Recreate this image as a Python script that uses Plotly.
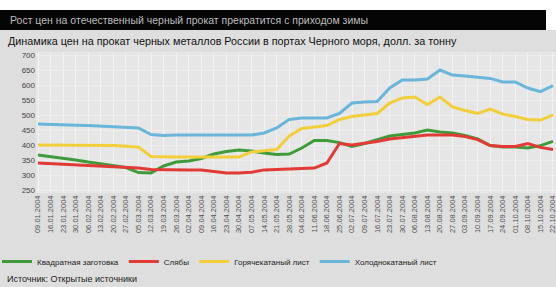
import plotly.graph_objects as go

dates = ["09.01.2004", "16.01.2004", "23.01.2004", "30.01.2004", "06.02.2004", "13.02.2004",
         "20.02.2004", "27.02.2004", "05.03.2004", "12.03.2004", "19.03.2004", "26.03.2004",
         "02.04.2004", "09.04.2004", "16.04.2004", "23.04.2004", "30.04.2004", "07.05.2004",
         "14.05.2004", "21.05.2004", "28.05.2004", "04.06.2004", "11.06.2004", "18.06.2004",
         "25.06.2004", "02.07.2004", "09.07.2004", "16.07.2004", "23.07.2004", "30.07.2004",
         "06.08.2004", "13.08.2004", "20.08.2004", "27.08.2004", "03.09.2004", "10.09.2004",
         "17.09.2004", "24.09.2004", "01.10.2004", "08.10.2004", "15.10.2004", "22.10.2004"]

billets = [367, 362, 357, 350, 343, 337, 330, 325, 308, 307, 330, 343, 347, 355, 370, 378,
           383, 380, 373, 368, 370, 390, 415, 415, 408, 395, 405, 418, 430, 435, 440, 450,
           443, 440, 432, 420, 398, 393, 393, 390, 398, 412]
slabs = [340, 338, 336, 334, 332, 330, 328, 326, 323, 318, 317, 317, 317, 317, 312, 307,
         307, 309, 317, 318, 320, 322, 323, 340, 405, 400, 405, 412, 420, 425, 430, 433,
         433, 433, 428, 418, 398, 395, 395, 405, 392, 385]
hot_rolled = [400, 400, 400, 400, 400, 400, 398, 396, 393, 362, 360, 360, 360, 360, 360, 360,
              360, 377, 380, 385, 430, 455, 460, 465, 485, 495, 500, 505, 540, 557, 560, 535,
              560, 527, 515, 505, 520, 503, 495, 485, 483, 500]
cold_rolled = [470, 468, 467, 466, 465, 463, 462, 460, 457, 435, 432, 433, 433, 433, 433, 433,
               433, 433, 440, 457, 485, 490, 490, 490, 505, 540, 543, 545, 590, 617, 617, 620,
               650, 633, 630, 627, 622, 610, 610, 590, 578, 598]

series = [
    ("Квадратная заготовка", billets, "#3f9b3a"),
    ("Слябы", slabs, "#e23a34"),
    ("Горячекатаный лист", hot_rolled, "#f2cf3a"),
    ("Холоднокатаный лист", cold_rolled, "#6ab6da"),
]

title = "Рост цен на отечественный черный прокат прекратится с приходом зимы"
subtitle = "Динамика цен на прокат черных металлов России в портах Черного моря, долл. за тонну"
source = "Источник: Открытые источники"

fig = go.Figure()
for name, vals, col in series:
    fig.add_trace(go.Scatter(x=dates, y=vals, name=name, mode="lines",
                             line=dict(color=col, width=3)))

W, H = 556, 287
L, R, T, B = 36, 0, 52, 94
pw, ph = W - L - R, H - T - B

def px(x):
    return (x - L) / pw

def py(y):
    return (H - B - y) / ph

fig.update_layout(
    template="none",
    width=W, height=H,
    margin=dict(l=L, r=R, t=T, b=B, autoexpand=False),
    paper_bgcolor="#dedede",
    plot_bgcolor="#e6e6e6",
    font=dict(family="Liberation Sans, Arial", color="#333333"),
    showlegend=True,
    legend=dict(orientation="h", x=px(-3), y=py(247), xanchor="left", yanchor="top",
                font=dict(size=8, color="#222222"), bgcolor="rgba(0,0,0,0)",
                itemwidth=30, tracegroupgap=0),
    xaxis=dict(type="category", range=[-0.16, 41.24], tickangle=-90, automargin=False,
               tickfont=dict(size=7.5, color="#505050"), showgrid=True,
               gridcolor="#f2f2f2", gridwidth=1, ticks="", zeroline=False,
               showline=False),
    yaxis=dict(range=[240, 710], tickvals=[250, 300, 350, 400, 450, 500, 550, 600, 650, 700],
               automargin=False,
               tickfont=dict(size=8, color="#444444"), showgrid=True,
               gridcolor="#ededed", gridwidth=1, ticks="", zeroline=False, showline=False),
    shapes=[
        dict(type="rect", xref="paper", yref="paper", x0=px(0), x1=px(W), y0=py(0), y1=py(30),
             fillcolor="#ffffff", line=dict(width=0), layer="below"),
        dict(type="rect", xref="paper", yref="paper", x0=px(0), x1=px(546), y0=py(10), y1=py(30),
             fillcolor="#050505", line=dict(width=0), layer="below"),
    ],
    annotations=[
        dict(text=title, xref="paper", yref="paper", x=px(8), y=py(20), xanchor="left",
             yanchor="middle", showarrow=False, font=dict(size=10.5, color="#bdbdbd")),
        dict(text=subtitle, xref="paper", yref="paper", x=px(6), y=py(41), xanchor="left",
             yanchor="middle", showarrow=False, font=dict(size=10.8, color="#111111")),
        dict(text=source, xref="paper", yref="paper", x=px(5), y=py(279), xanchor="left",
             yanchor="middle", showarrow=False, font=dict(size=9, color="#222222")),
    ],
)

fig.write_html("out.html", config={"displayModeBar": False},
               post_script="document.body.style.margin='0px';")
